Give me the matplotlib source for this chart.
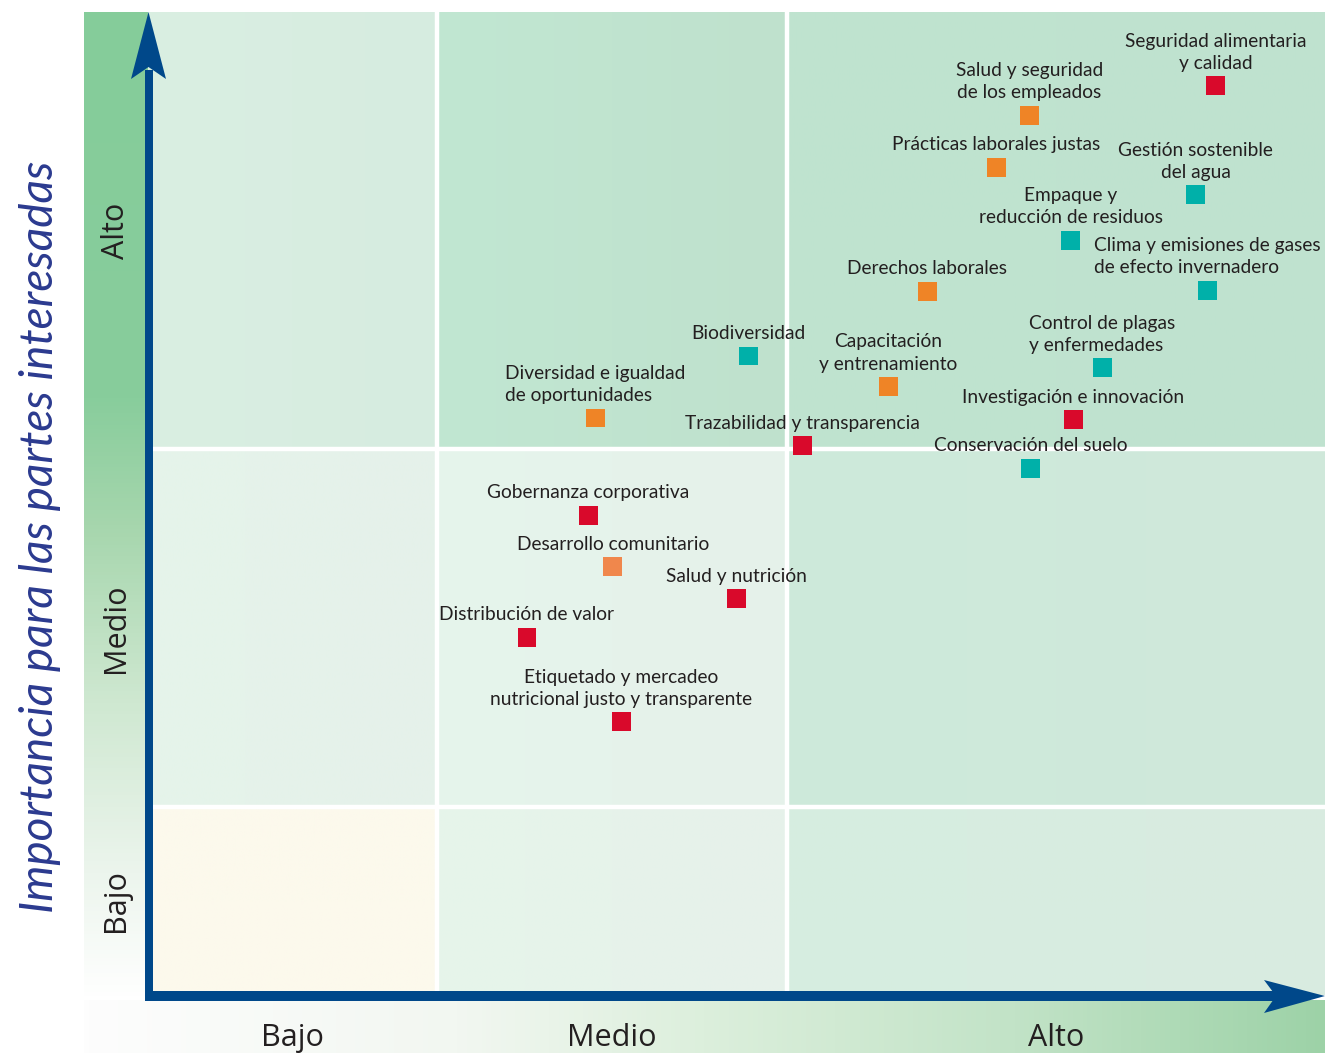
import matplotlib
matplotlib.use('Agg')
import matplotlib.pyplot as plt
import numpy as np
from matplotlib.colors import LinearSegmentedColormap
from matplotlib.patches import Polygon

# ---------------- data ----------------
topics = [
    "Seguridad alimentaria\ny calidad",
    "Salud y seguridad\nde los empleados",
    "Prácticas laborales justas",
    "Gestión sostenible\ndel agua",
    "Empaque y\nreducción de residuos",
    "Clima y emisiones de gases\nde efecto invernadero",
    "Derechos laborales",
    "Biodiversidad",
    "Capacitación\ny entrenamiento",
    "Control de plagas\ny enfermedades",
    "Diversidad e igualdad\nde oportunidades",
    "Investigación e innovación",
    "Trazabilidad y transparencia",
    "Conservación del suelo",
    "Gobernanza corporativa",
    "Desarrollo comunitario",
    "Salud y nutrición",
    "Distribución de valor",
    "Etiquetado y mercadeo\nnutricional justo y transparente",
]
# importance for the business (x) and for stakeholders (y), 0-10 scale
impact_x = [9.07, 7.49, 7.21, 8.90, 7.84, 9.00, 6.62, 5.10, 6.29, 8.11,
            3.80, 7.86, 5.56, 7.50, 3.74, 3.95, 5.00, 3.22, 4.02]
stakeholder_y = [9.25, 8.95, 8.42, 8.14, 7.68, 7.17, 7.16, 6.50, 6.19, 6.38,
                 5.87, 5.85, 5.59, 5.36, 4.88, 4.36, 4.03, 3.64, 2.78]
groups = ["rojo", "naranja", "naranja", "turquesa", "turquesa", "turquesa",
          "naranja", "turquesa", "naranja", "turquesa", "naranja", "rojo",
          "rojo", "turquesa", "rojo", "naranja_claro", "rojo", "rojo", "rojo"]
text_align = ["center", "center", "center", "center", "center", "left",
              "center", "center", "center", "left", "left", "center",
              "center", "center", "center", "center", "center", "center", "center"]

level_labels = ["Bajo", "Medio", "Alto"]
x_edges = [0.0, 2.455, 5.429, 10.0]
y_edges = [0.0, 1.913, 5.554, 10.0]

group_colors = {"rojo": "#d9092b", "naranja": "#ef8426",
                "turquesa": "#00b0a9", "naranja_claro": "#f0874c"}

# cell gradients (left colour, right colour); rows bottom->top, cols left->right
cell_colors = [
    [("#fcf9ec", "#fcf9ec"), ("#e6f5eb", "#e6f1ea"), ("#d6eee0", "#d9ebe0")],
    [("#e5f4ea", "#e5f1ea"), ("#e6f5ec", "#e5f1ea"), ("#cdeadb", "#d0e8da")],
    [("#daefe2", "#d6ece0"), ("#c1e7d2", "#bfe1cd"), ("#bfe4d0", "#bfe2cf")],
]

W, H, DPI = 1325, 1053, 100
fig = plt.figure(figsize=(W / DPI, H / DPI), dpi=DPI)
fig.patch.set_facecolor("white")

def fx(px):
    return px / W

def fy(py):
    return 1 - py / H

# ---------------- background decorative bands ----------------
bg = fig.add_axes([0, 0, 1, 1], zorder=0)
bg.set_xlim(0, W)
bg.set_ylim(H, 0)
bg.axis("off")

left_cmap = LinearSegmentedColormap.from_list(
    "lb", [(0.0, "#85cc9a"), (0.39, "#88cd9c"), (0.52, "#a6d6ad"),
           (0.70, "#cfe8d1"), (0.86, "#eaf4eb"), (1.0, "#ffffff")])
grad_v = np.linspace(0, 1, 256).reshape(-1, 1)
bg.imshow(grad_v, cmap=left_cmap, extent=[84, 148, 1000, 12],
          aspect="auto", origin="upper", zorder=1)

bot_cmap = LinearSegmentedColormap.from_list(
    "bb", [(0.0, "#fdfdfd"), (0.3, "#f2f7f1"), (0.5, "#dcefdc"),
           (0.75, "#c2e3c7"), (1.0, "#9dd2a7")])
grad_h = np.linspace(0, 1, 256).reshape(1, -1)
bg.imshow(grad_h, cmap=bot_cmap, extent=[84, W, H, 1000],
          aspect="auto", origin="upper", zorder=1)

# ---------------- main matrix axes ----------------
ax = fig.add_axes([fx(148), fy(995), (W - 148) / W, (995 - 12) / H], zorder=1)
ax.set_xlim(0, 10)
ax.set_ylim(0, 10)

for r in range(3):
    for c in range(3):
        c0, c1 = cell_colors[r][c]
        cm = LinearSegmentedColormap.from_list("c", [c0, c1])
        ax.imshow(grad_h, cmap=cm,
                  extent=[x_edges[c], x_edges[c + 1], y_edges[r], y_edges[r + 1]],
                  aspect="auto", origin="lower", zorder=0)
for xe in x_edges[1:-1]:
    ax.axvline(xe, color="white", lw=3.2, zorder=1)
for ye in y_edges[1:-1]:
    ax.axhline(ye, color="white", lw=3.2, zorder=1)
ax.set_xlim(0, 10)
ax.set_ylim(0, 10)

cols = [group_colors[g] for g in groups]
ax.scatter(impact_x, stakeholder_y, marker="s", s=185, c=cols,
           linewidths=0, zorder=3)

for t, x, y, al in zip(topics, impact_x, stakeholder_y, text_align):
    ax.annotate(t, (x, y), xytext=(0, 10.0), textcoords="offset points",
                ha="center", va="bottom", multialignment=al,
                fontsize=13.8, family="Lato", color="#231f20",
                linespacing=1.38, zorder=4)

for s in ax.spines.values():
    s.set_visible(False)

xc = [(x_edges[i] + x_edges[i + 1]) / 2 for i in range(3)]
yc = [(y_edges[i] + y_edges[i + 1]) / 2 for i in range(3)]
ax.set_xticks(xc, level_labels)
ax.set_yticks(yc, level_labels)
ax.tick_params(axis="both", length=0)
ax.tick_params(axis="x", pad=20)
ax.tick_params(axis="y", pad=12)
for lab in ax.get_xticklabels():
    lab.set_fontfamily("Open Sans")
    lab.set_fontsize(22)
    lab.set_color("#231f20")
for lab in ax.get_yticklabels():
    lab.set_fontfamily("Open Sans")
    lab.set_fontsize(22)
    lab.set_color("#231f20")
    lab.set_rotation(90)
    lab.set_va("center")

# ---------------- axis arrows (overlay) ----------------
ov = fig.add_axes([0, 0, 1, 1], zorder=5)
ov.set_xlim(0, W)
ov.set_ylim(H, 0)
ov.axis("off")
ov.patch.set_alpha(0)
axis_blue = "#00488a"
ov.add_patch(Polygon([[145, 1001], [145, 70], [153, 70], [153, 1001]],
                     closed=True, color=axis_blue, lw=0))
ov.add_patch(Polygon([[148.5, 12], [131, 79], [148.5, 67], [166, 79]],
                     closed=True, color=axis_blue, lw=0))
ov.add_patch(Polygon([[145, 991], [1280, 991], [1280, 1001], [145, 1001]],
                     closed=True, color=axis_blue, lw=0))
ov.add_patch(Polygon([[1325, 996], [1264, 980], [1276, 996], [1264, 1013]],
                     closed=True, color=axis_blue, lw=0))

fig.text(fx(40), fy(537), "Importancia para las partes interesadas",
         rotation=90, ha="center", va="center", fontsize=33,
         family="Lato", style="italic", color="#2b3a8f")

fig.savefig("out.png", dpi=DPI)
